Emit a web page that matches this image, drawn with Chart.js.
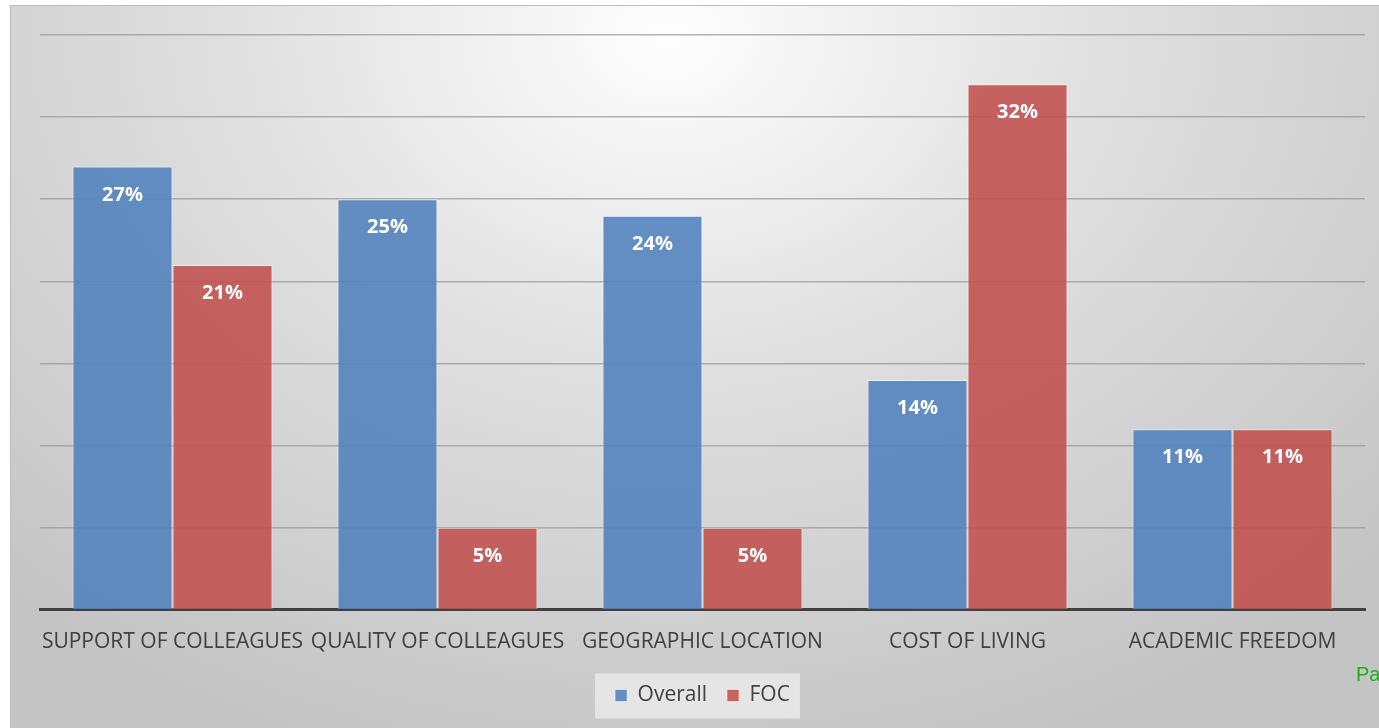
<!DOCTYPE html>
<html>
<head>
<meta charset="utf-8">
<script src="https://cdn.jsdelivr.net/npm/chart.js@4.4.1/dist/chart.umd.min.js"></script>
<style>
  html, body { margin: 0; padding: 0; background: #fff; }
  #panel {
    position: absolute; left: 10px; top: 5px; width: 1369px; height: 723px;
    border-top: 1px solid #bdbdbd; border-left: 1px solid #bdbdbd;
    background: radial-gradient(ellipse 72% 105% at 48% 4%, #fefefe 0%, #dfdfdf 45%, #c4c4c4 100%);
  }
  #wrap { position: absolute; left: 0; top: 0; width: 1379px; height: 728px; }
  #pa {
    position: absolute; left: 1356px; top: 663px;
    font-family: "Liberation Sans", Arial, sans-serif; font-size: 20px; color: #1bb01b;
  }
</style>
</head>
<body>
<div id="panel"></div>
<div id="wrap"><canvas id="c" width="1379" height="728"></canvas></div>
<div id="pa">Pa</div>
<script>
var categories = ["SUPPORT OF COLLEAGUES", "QUALITY OF COLLEAGUES", "GEOGRAPHIC LOCATION", "COST OF LIVING", "ACADEMIC FREEDOM"];
var overall = [27, 25, 24, 14, 11];
var foc = [21, 5, 5, 32, 11];
var yTicks = [0, 5, 10, 15, 20, 25, 30, 35];

// white % labels near the top of each bar
var barLabels = {
  id: 'barLabels',
  afterDatasetsDraw: function (chart) {
    var ctx = chart.ctx;
    ctx.save();
    ctx.fillStyle = '#ffffff';
    ctx.font = 'bold 20px "Open Sans", sans-serif';
    ctx.textAlign = 'center';
    ctx.textBaseline = 'middle';
    chart.data.datasets.forEach(function (ds, i) {
      chart.getDatasetMeta(i).data.forEach(function (bar, j) {
        ctx.fillText(ds.data[j] + '%', bar.x, bar.y + 28.5);
      });
    });
    ctx.restore();
  }
};

// light box behind the legend
var legendBox = {
  id: 'legendBox',
  beforeDraw: function (chart) {
    var boxes = chart.legend && chart.legend.legendHitBoxes;
    if (!boxes || !boxes.length) return;
    var first = boxes[0], last = boxes[boxes.length - 1];
    var ctx = chart.ctx;
    ctx.save();
    ctx.fillStyle = 'rgba(232,232,232,0.9)';
    var cy = first.top + first.height / 2;
    ctx.fillRect(first.left - 20, cy - 22, last.left + last.width - first.left + 30, 45);
    ctx.restore();
  }
};

new Chart(document.getElementById('c'), {
  type: 'bar',
  data: {
    labels: categories,
    datasets: [{
      label: 'Overall',
      data: overall,
      backgroundColor: 'rgba(79,129,189,0.88)',
      borderColor: 'rgba(255,255,255,0.5)',
      borderWidth: 1
    }, {
      label: 'FOC',
      data: foc,
      backgroundColor: 'rgba(192,80,77,0.88)',
      borderColor: 'rgba(255,255,255,0.5)',
      borderWidth: 1
    }]
  },
  options: {
    responsive: false,
    animation: false,
    layout: { padding: { left: 40, right: 14, top: 35, bottom: 12 } },
    datasets: { bar: { categoryPercentage: 0.755, barPercentage: 1 } },
    scales: {
      x: {
        grid: { display: false, drawTicks: false },
        border: { display: true, color: '#404040', width: 3 },
        ticks: {
          color: '#404040', padding: 20, maxRotation: 0, autoSkip: false,
          font: { family: '"Open Sans", sans-serif', size: 21 }
        },
        afterFit: function (scale) { scale.height -= 10; }
      },
      y: {
        min: yTicks[0], max: yTicks[yTicks.length - 1],
        afterBuildTicks: function (axis) { axis.ticks = yTicks.map(function (v) { return { value: v }; }); },
        ticks: { display: false },
        grid: { color: 'rgba(150,150,150,0.7)', lineWidth: 1.5, drawTicks: false },
        border: { display: false }
      }
    },
    plugins: {
      legend: {
        position: 'bottom',
        labels: {
          boxWidth: 12, boxHeight: 12, padding: 20, color: '#404040',
          font: { family: '"Open Sans", sans-serif', size: 21 }
        }
      },
      tooltip: { enabled: false }
    }
  },
  plugins: [legendBox, barLabels]
});
</script>
</body>
</html>
